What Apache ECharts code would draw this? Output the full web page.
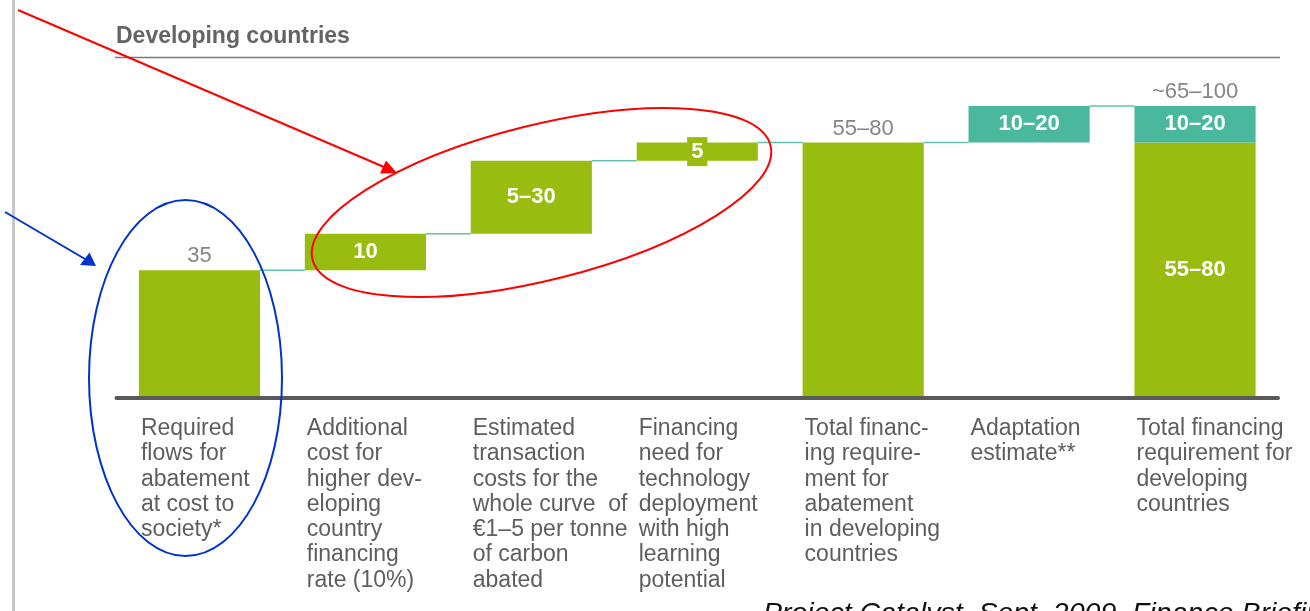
<!DOCTYPE html>
<html>
<head>
<meta charset="utf-8">
<script src="https://cdn.jsdelivr.net/npm/echarts@6/dist/echarts.min.js"></script>
<style>
  html, body { margin: 0; padding: 0; background: #fff; }
  #chart { width: 1310px; height: 611px; }
</style>
</head>
<body>
<div id="chart"></div>
<script>
// categories, written the way they break under each bar
var categories = [
  "Required\nflows for\nabatement\nat cost to\nsociety*",
  "Additional\ncost for\nhigher dev-\neloping\ncountry\nfinancing\nrate (10%)",
  "Estimated\ntransaction\ncosts for the\nwhole curve  of\n€1–5 per tonne\nof carbon\nabated",
  "Financing\nneed for\ntechnology\ndeployment\nwith high\nlearning\npotential",
  "Total financ-\ning require-\nment for\nabatement\nin developing\ncountries",
  "Adaptation\nestimate**",
  "Total financing\nrequirement for\ndeveloping\ncountries"
];
// waterfall pieces (EUR bn)
var baseVals  = [0, 35, 45, 65, 0, 70, 0];
var greenVals = [35, 10, 20, 5, 70, "-", 70];
var tealVals  = ["-", "-", "-", "-", "-", 10, 10];
// labels
var greenInside = ["", "10", "5–30", "5", "", "", "55–80"];
var tealInside  = ["", "", "", "", "", "10–20", "10–20"];
var topLabels   = ["35", "", "", "", "55–80", "", "~65–100"];

var GREEN = "#98bc0f";
var TEAL = "#4ab89d";
var FONT = '"Liberation Sans", Arial, sans-serif';
var BAR_RATIO = 0.73;

function num(v) { return v === "-" ? 0 : v; }
var tops = baseVals.map(function (b, i) { return b + num(greenVals[i]) + num(tealVals[i]); });

var insideLabel = {
  show: true, position: "inside", color: "#fff",
  fontSize: 22, fontWeight: "bold", fontFamily: FONT
};

var greenData = greenVals.map(function (v, i) {
  var item = { value: v };
  if (greenInside[i]) {
    item.label = Object.assign({}, insideLabel, { formatter: greenInside[i] });
    // the 5 bar is too thin, label gets its own green box
    if (v !== "-" && v < 8) {
      item.label.backgroundColor = GREEN;
      item.label.padding = [4, 4];
      item.label.lineHeight = 21;
    }
  }
  return item;
});
var tealData = tealVals.map(function (v, i) {
  var item = { value: v };
  if (tealInside[i]) item.label = Object.assign({}, insideLabel, { formatter: tealInside[i] });
  return item;
});
var totalData = [];
topLabels.forEach(function (t, i) { if (t) totalData.push({ value: [i, tops[i]], name: t }); });

var chart = echarts.init(document.getElementById("chart"));
var option = {
  animation: false,
  title: {
    text: "Developing countries",
    left: 116, top: 25, padding: 0,
    textStyle: { fontSize: 23, fontWeight: "bold", color: "#646464", fontFamily: FONT }
  },
  grid: { left: 116.5, right: 32, top: 33, bottom: 213 },
  xAxis: {
    type: "category",
    data: categories,
    z: 10,
    axisLine: { lineStyle: { color: "#5a5a5a", width: 4 } },
    axisTick: { show: false },
    axisLabel: { show: false }
  },
  yAxis: { type: "value", min: 0, max: 100, show: false, splitLine: { show: false } },
  series: [
    {
      name: "base", type: "bar", stack: "w", barWidth: BAR_RATIO * 100 + "%",
      itemStyle: { color: "transparent" }, data: baseVals, silent: true
    },
    {
      name: "abatement", type: "bar", stack: "w", barWidth: BAR_RATIO * 100 + "%",
      itemStyle: { color: GREEN }, data: greenData
    },
    {
      name: "adaptation", type: "bar", stack: "w", barWidth: BAR_RATIO * 100 + "%",
      itemStyle: { color: TEAL }, data: tealData
    },
    {
      // the gray totals above the bars
      name: "totals", type: "scatter", symbolSize: 0, data: totalData,
      label: {
        show: true, position: "top", distance: 3,
        formatter: function (p) { return p.name; },
        color: "#666", fontSize: 22, fontFamily: FONT
      }
    },
    {
      // thin connectors from each bar top to the next bar
      name: "connectors", type: "custom", z: 1, clip: false,
      data: tops.slice(0, -1).map(function (t, i) { return [i, t]; }),
      renderItem: function (params, api) {
        var i = api.value(0), lv = api.value(1);
        var a = api.coord([i, lv]), b = api.coord([i + 1, lv]);
        var half = api.size([1, 0])[0] * BAR_RATIO / 2;
        return {
          type: "line",
          shape: { x1: a[0] + half, y1: a[1], x2: b[0] - half, y2: b[1] },
          style: { stroke: "#62c2b0", lineWidth: 1.5 }
        };
      }
    },
    {
      // category texts, left aligned with the bar edge
      name: "catLabels", type: "custom", clip: false, silent: true,
      data: categories.map(function (c, i) { return [i, 0]; }),
      renderItem: function (params, api) {
        var i = api.value(0);
        var p = api.coord([i, 0]);
        var half = api.size([1, 0])[0] * BAR_RATIO / 2;
        return {
          type: "text",
          x: p[0] - half + 2, y: p[1] + 18,
          style: {
            text: categories[i], fill: "#5e5e5e", fontSize: 23, fontFamily: FONT,
            lineHeight: 25.3, align: "left", verticalAlign: "top"
          }
        };
      }
    }
  ],
  graphic: [
    { type: "line", z: 50, shape: { x1: 13.5, y1: 0, x2: 13.5, y2: 611 }, style: { stroke: "#c8c8c8", lineWidth: 3 } },
    { type: "line", z: 50, shape: { x1: 115, y1: 57.5, x2: 1280, y2: 57.5 }, style: { stroke: "#7a7a7a", lineWidth: 1.5 } },
    {
      type: "text", z: 50, x: 763, y: 600,
      style: { text: "Project Catalyst, Sept. 2009, Finance Briefing", fill: "#111", fontSize: 28.5, fontStyle: "italic", fontFamily: FONT, verticalAlign: "top" }
    },
    // red annotation
    { type: "line", z: 100, shape: { x1: 18, y1: 10, x2: 384, y2: 167 }, style: { stroke: "#ff0000", lineWidth: 2 } },
    { type: "polygon", z: 100, shape: { points: [[380, 173.5], [386, 160.5], [397, 173]] }, style: { fill: "#ff0000" } },
    {
      type: "ellipse", z: 100, x: 541.5, y: 202.5, rotation: 14 * Math.PI / 180,
      shape: { cx: 0, cy: 0, rx: 236, ry: 77.5 }, style: { fill: "none", stroke: "#ff0000", lineWidth: 2 }
    },
    // blue annotation
    { type: "line", z: 100, shape: { x1: 5, y1: 212, x2: 85, y2: 259 }, style: { stroke: "#0033cc", lineWidth: 2 } },
    { type: "polygon", z: 100, shape: { points: [[80, 265], [89.5, 252.5], [96, 266]] }, style: { fill: "#0033cc" } },
    {
      type: "ellipse", z: 100, x: 185.5, y: 378,
      shape: { cx: 0, cy: 0, rx: 96.5, ry: 178 }, style: { fill: "none", stroke: "#0033cc", lineWidth: 2 }
    }
  ]
};
chart.setOption(option);
</script>
</body>
</html>
